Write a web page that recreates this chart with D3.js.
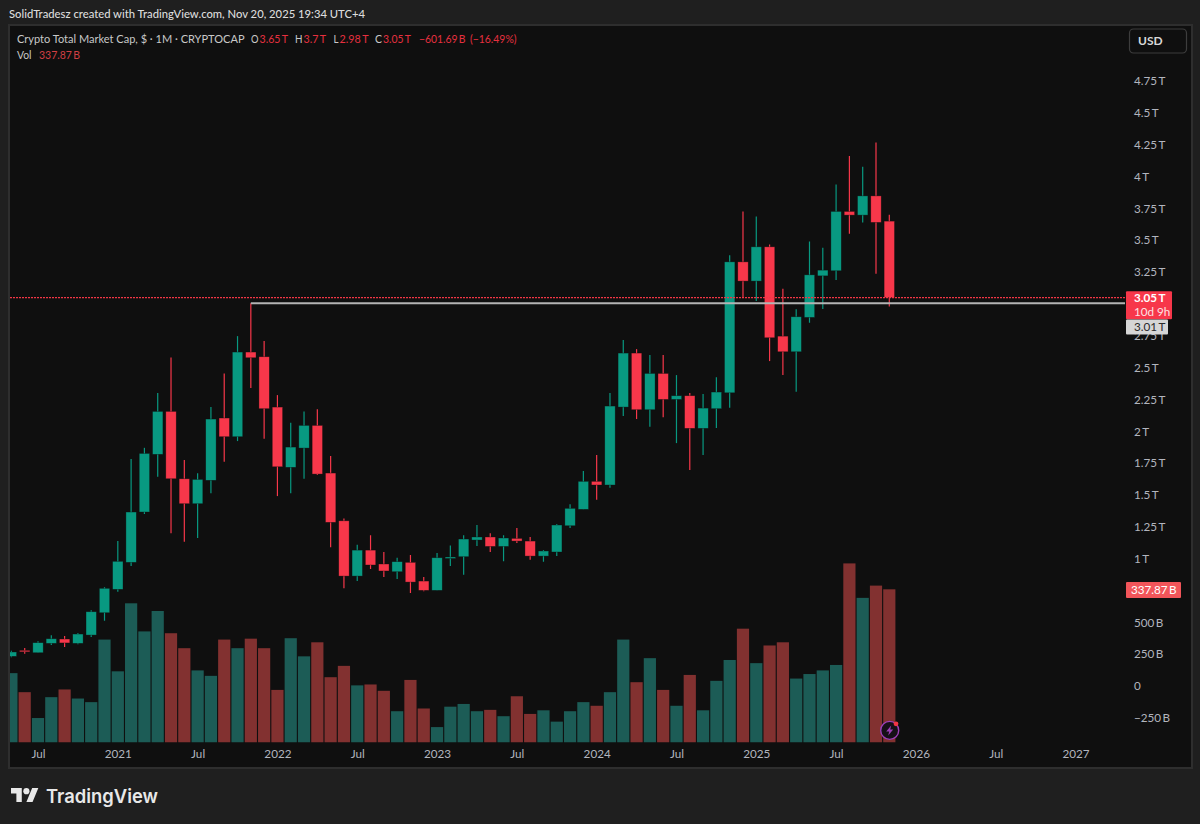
<!DOCTYPE html>
<html>
<head>
<meta charset="utf-8">
<script src="https://cdn.jsdelivr.net/npm/d3@7"></script>
<style>
  html, body { margin: 0; padding: 0; background: #1f1f1f; }
  svg { display: block; }
  text { font-family: Lato, "Noto Sans", sans-serif; }
  .tick text { fill: #b2b5be; font-size: 11.7px; font-family: Lato, "Noto Sans", sans-serif; }
</style>
</head>
<body>
<div id="chart"></div>
<script>
// monthly candles, May 2020 to Nov 2025, values in trillions
var months = ["2020-05","2020-06","2020-07","2020-08","2020-09","2020-10","2020-11","2020-12",
  "2021-01","2021-02","2021-03","2021-04","2021-05","2021-06","2021-07","2021-08","2021-09","2021-10","2021-11","2021-12",
  "2022-01","2022-02","2022-03","2022-04","2022-05","2022-06","2022-07","2022-08","2022-09","2022-10","2022-11","2022-12",
  "2023-01","2023-02","2023-03","2023-04","2023-05","2023-06","2023-07","2023-08","2023-09","2023-10","2023-11","2023-12",
  "2024-01","2024-02","2024-03","2024-04","2024-05","2024-06","2024-07","2024-08","2024-09","2024-10","2024-11","2024-12",
  "2025-01","2025-02","2025-03","2025-04","2025-05","2025-06","2025-07","2025-08","2025-09","2025-10","2025-11"];

var opens = [.233,.280,.261,.335,.369,.335,.400,.575,
  .759,.971,1.366,1.819,2.156,1.627,1.431,1.615,2.104,1.957,2.622,2.585,
  2.190,1.717,1.868,2.046,1.672,1.297,.863,1.067,.958,.897,.971,.824,
  .751,1.002,1.015,1.146,1.170,1.096,1.159,1.138,1.020,1.052,1.258,1.387,
  1.607,1.578,2.190,2.614,2.169,2.454,2.250,2.279,2.023,2.177,2.302,3.330,
  3.179,3.448,2.747,2.624,2.894,3.220,3.260,3.726,3.697,3.848,3.65];

var highs = [.277,.298,.351,.398,.392,.416,.594,.775,
  1.138,1.782,1.870,2.300,2.580,1.774,1.670,2.190,2.454,2.747,3.006,2.708,
  2.284,2.067,2.156,2.172,1.805,1.316,1.109,1.183,1.052,1.007,1.028,.856,
  1.044,1.104,1.183,1.264,1.199,1.183,1.240,1.170,1.067,1.272,1.426,1.688,
  1.813,2.300,2.716,2.645,2.598,2.598,2.441,2.300,2.292,2.425,3.381,3.726,
  3.687,3.467,3.118,2.957,3.490,3.440,3.938,4.162,4.076,4.268,3.70];

var lows = [.225,.254,.261,.322,.306,.327,.385,.513,
  .740,.942,1.350,1.643,1.199,1.133,1.162,1.513,1.761,1.923,2.339,1.941,
  1.491,1.513,1.627,1.656,1.089,.767,.824,.918,.856,.840,.730,.743,
  .751,.942,.874,1.099,1.052,.979,1.122,.991,.976,1.020,1.240,1.387,
  1.462,1.556,2.119,2.096,2.035,2.111,1.907,1.695,1.813,2.025,2.184,3.048,
  3.022,2.551,2.441,2.310,2.852,2.959,3.187,3.550,3.640,3.236,2.98];

var closes = [.267,.272,.340,.371,.338,.408,.583,.767,
  .979,1.366,1.826,2.156,1.627,1.431,1.622,2.096,1.957,2.622,2.577,2.177,
  1.721,1.876,2.046,1.664,1.285,.863,1.067,.950,.903,.976,.816,.751,
  1.007,1.013,1.154,1.170,1.096,1.162,1.138,1.020,1.060,1.264,1.395,1.607,
  1.578,2.198,2.614,2.169,2.454,2.250,2.279,2.023,2.182,2.308,3.330,3.179,
  3.448,2.734,2.624,2.899,3.228,3.265,3.726,3.697,3.848,3.640,3.05];

// volume in billions
var volumes = [153,111,54,100,117,97,89,227,
  157,307,245,290,241,208,159,147,227,208,229,208,
  116,230,190,221,144,169,126,128,114,69,138,75,
  34,79,85,69,72,58,102,63,71,46,69,89,
  81,111,227,133,186,116,81,149,71,136,182,251,
  175,214,221,141,151,159,171,395,319,346,337.87];

// 750 B and 3 T sit behind the tags in the reference, so they are left out
var yTicks = [-0.25,0,0.25,0.5,1,1.25,1.5,1.75,2,2.25,2.5,2.75,3.25,3.5,3.75,4,4.25,4.5,4.75];
var yTickLabels = ["\u2212250\u2009B","0","250\u2009B","500\u2009B","1\u2009T","1.25\u2009T","1.5\u2009T","1.75\u2009T","2\u2009T","2.25\u2009T","2.5\u2009T","2.75\u2009T","3.25\u2009T","3.5\u2009T","3.75\u2009T","4\u2009T","4.25\u2009T","4.5\u2009T","4.75\u2009T"];

// month offsets counted from May 2020, the last ones run past the data
var xTicks = [2,8,14,20,26,32,38,44,50,56,62,68,74,80];
var xTickLabels = ["Jul","2021","Jul","2022","Jul","2023","Jul","2024","Jul","2025","Jul","2026","Jul","2027"];

var lastPrice = 3.05;
var markedLevel = 3.005;
var markedStart = 18;
var lastVolume = 337.87;

var svgWidth = 1200;
var svgHeight = 824;

var pane = { left: 10, right: 1125, top: 26, bottom: 742.5, axisBottom: 767, outerRight: 1191 };

var green = "#089981";
var red = "#f7374a";
var legendRed = "#e6303f";
var greenVol = "#1c5c56";
var redVol = "#823130";

var svg = d3.select("#chart")
  .append("svg")
  .attr("width", svgWidth)
  .attr("height", svgHeight);

svg.append("rect")
  .attr("width", svgWidth)
  .attr("height", svgHeight)
  .attr("fill", "#1f1f1f");

svg.append("rect")
  .attr("x", pane.left - 1)
  .attr("y", pane.top - 1)
  .attr("width", pane.outerRight - pane.left + 2)
  .attr("height", pane.axisBottom - pane.top + 2)
  .attr("fill", "#0f0f0f")
  .attr("stroke", "#2e2e2e")
  .attr("stroke-width", 2);

svg.append("clipPath")
  .attr("id", "paneClip")
  .append("rect")
  .attr("x", pane.left)
  .attr("y", pane.top)
  .attr("width", pane.right - pane.left)
  .attr("height", pane.bottom - pane.top);

var xScale = d3.scaleLinear().domain([0, 66]).range([11.4, 889.3]);
var yScale = d3.scaleLinear().domain([0, 4.75]).range([686, 81]);
var volScale = d3.scaleLinear().domain([0, lastVolume]).range([pane.bottom, 589.3]);

var plot = svg.append("g").attr("clip-path", "url(#paneClip)");

function isUp(i) {
  return closes[i] >= opens[i];
}

// volume bars go first, candles sit on top of them
plot.selectAll(".vol")
  .data(months)
  .enter()
  .append("rect")
  .attr("class", "vol")
  .attr("x", (d, i) => xScale(i) - 6.1)
  .attr("y", (d, i) => volScale(volumes[i]))
  .attr("width", 12.2)
  .attr("height", (d, i) => pane.bottom - volScale(volumes[i]))
  .attr("fill", (d, i) => isUp(i) ? greenVol : redVol);

plot.selectAll(".wick")
  .data(months)
  .enter()
  .append("line")
  .attr("class", "wick")
  .attr("x1", (d, i) => xScale(i))
  .attr("x2", (d, i) => xScale(i))
  .attr("y1", (d, i) => yScale(highs[i]))
  .attr("y2", (d, i) => yScale(lows[i]))
  .attr("stroke", (d, i) => isUp(i) ? green : red)
  .attr("stroke-width", 1.2);

plot.selectAll(".body")
  .data(months)
  .enter()
  .append("rect")
  .attr("class", "body")
  .attr("x", (d, i) => xScale(i) - 5.2)
  .attr("y", (d, i) => yScale(Math.max(opens[i], closes[i])))
  .attr("width", 10.4)
  .attr("height", (d, i) => Math.max(1.5, Math.abs(yScale(opens[i]) - yScale(closes[i]))))
  .attr("fill", (d, i) => isUp(i) ? green : red)
  .attr("stroke", "#0f0f0f")
  .attr("stroke-opacity", 0.6)
  .attr("stroke-width", 0.6);

// horizontal marked level, drawn from the Nov 2021 high
svg.append("line")
  .attr("x1", xScale(markedStart))
  .attr("x2", pane.right)
  .attr("y1", yScale(markedLevel))
  .attr("y2", yScale(markedLevel))
  .attr("stroke", "#b4b4b4")
  .attr("stroke-width", 2.2);

svg.append("line")
  .attr("x1", pane.left)
  .attr("x2", pane.right)
  .attr("y1", yScale(lastPrice))
  .attr("y2", yScale(lastPrice))
  .attr("stroke", "#f23645")
  .attr("stroke-width", 1.2)
  .attr("stroke-dasharray", "2 1");

// axes
var rightAxis = d3.axisRight(yScale)
  .tickValues(yTicks)
  .tickSize(0)
  .tickPadding(0)
  .tickFormat((d, i) => yTickLabels[i]);

var yAxisGroup = svg.append("g")
  .attr("transform", "translate(1134,0)")
  .call(rightAxis);
yAxisGroup.select(".domain").remove();

var bottomAxis = d3.axisBottom(xScale)
  .tickValues(xTicks)
  .tickSize(0)
  .tickPadding(0)
  .tickFormat((d, i) => xTickLabels[i]);

var xAxisGroup = svg.append("g")
  .attr("transform", `translate(0,${pane.bottom + 7})`)
  .call(bottomAxis);
xAxisGroup.select(".domain").remove();

// price and volume tags on the right axis
function tag(x, y, w, h, fill) {
  svg.append("rect")
    .attr("x", x)
    .attr("y", y)
    .attr("width", w)
    .attr("height", h)
    .attr("rx", 1)
    .attr("fill", fill);
}

function label(x, y, str, color, size, weight, fitWidth) {
  var t = svg.append("text")
    .attr("x", x)
    .attr("y", y)
    .attr("fill", color)
    .attr("font-size", size)
    .attr("font-weight", weight || 400)
    .text(str);
  // the original font is not installed, so squeeze to the measured width
  if (fitWidth) {
    t.attr("textLength", fitWidth).attr("lengthAdjust", "spacingAndGlyphs");
  }
  return t;
}

tag(1126, yScale(lastPrice) - 6.4, 46, 28, red);
label(1134, yScale(lastPrice) + 4.2, "3.05\u2009T", "#ffffff", 11.7, 700);
label(1134, yScale(lastPrice) + 18, "10d 9h", "#fde2e4", 11.7, 400);
tag(1126, 319.5, 42, 15, "#d6d6d6");
label(1134, 331, "3.01\u2009T", "#2a2a2a", 11.7, 400);
tag(1126, 582, 55, 16, "#f2555a");
label(1131, 594, "337.87\u2009B", "#ffffff", 11.7, 400);

svg.append("rect")
  .attr("x", 1129.5)
  .attr("y", 29)
  .attr("width", 57)
  .attr("height", 24)
  .attr("rx", 4)
  .attr("fill", "none")
  .attr("stroke", "#3d3d3d")
  .attr("stroke-width", 1.2);
label(1138, 45, "USD", "#d8d8d8", 12, 700);

// header and legend
var headerColor = "#c8c8c8";
label(9, 18, "SolidTradesz created with TradingView.com, Nov 20, 2025 19:34 UTC+4", "#dcdcdc", 12, 500, 356);
label(17, 43, "Crypto Total Market Cap, $ \u00b7 1M \u00b7 CRYPTOCAP", headerColor, 12, 400, 227.5);
label(251, 43, "O", headerColor, 12, 400, 7.5);
label(259.5, 43, "3.65\u2009T", legendRed, 12, 400, 28.5);
label(295, 43, "H", headerColor, 12, 400, 7.5);
label(303.5, 43, "3.7\u2009T", legendRed, 12, 400, 22.5);
label(333.5, 43, "L", headerColor, 12, 400, 5);
label(339.5, 43, "2.98\u2009T", legendRed, 12, 400, 29);
label(375, 43, "C", headerColor, 12, 400, 7);
label(383, 43, "3.05\u2009T", legendRed, 12, 400, 28);
label(419, 43, "\u2212601.69\u2009B", legendRed, 12, 400, 46.5);
label(470, 43, "(\u221216.49%)", legendRed, 12, 400, 46.5);
label(17, 58.5, "Vol", headerColor, 12, 400, 14.5);
label(39, 58.5, "337.87\u2009B", "#cf3f44", 12, 400, 41);

// lightning badge
var badge = svg.append("g").attr("transform", "translate(889.7,730.4)");
badge.append("circle")
  .attr("r", 9)
  .attr("fill", "#161018")
  .attr("stroke", "#9c3fb8")
  .attr("stroke-width", 1.4);
badge.append("path")
  .attr("d", "M1.5,-5 L-3.5,1 L-0.5,1 L-1.5,5 L3.5,-1 L0.5,-1 Z")
  .attr("fill", "#9c3fb8");
badge.append("circle")
  .attr("cx", 6.3)
  .attr("cy", -6.6)
  .attr("r", 2.4)
  .attr("fill", "#f23645");

// logo
var logo = svg.append("g")
  .attr("transform", "translate(11,785) scale(0.77)")
  .attr("fill", "#e8e8e8");
logo.append("path").attr("d", "M14 22H7V11H0V4h14v18zM28 22h-8l7.5-18h8L28 22z");
logo.append("circle").attr("cx", 20).attr("cy", 8).attr("r", 4);

label(46, 803, "TradingView", "#e8e8e8", 19.2, 600, 112).style("font-family", "Inter, sans-serif");
</script>
</body>
</html>
